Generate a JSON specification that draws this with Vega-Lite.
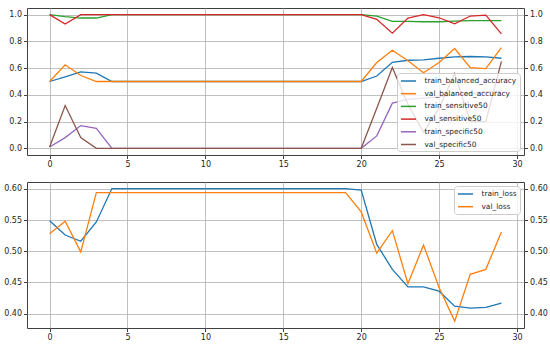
{
  "$schema": "https://vega.github.io/schema/vega-lite/v6.json",
  "padding": {"left": 3, "top": 7, "right": 0, "bottom": 0},
  "background": "white",
  "spacing": 12,
  "config": {
    "view": {"stroke": "#404040", "strokeWidth": 1},
    "axis": {"labelFont": "DejaVu Sans", "labelFontSize": 8, "labelColor": "#262626", "tickColor": "#404040", "tickSize": 3.5, "domain": false, "gridColor": "#b0b0b0", "gridWidth": 0.8, "labelPadding": 2},
    "legend": {"labelFont": "DejaVu Sans", "labelFontSize": 7.4, "labelColor": "#262626", "symbolType": "M-1.875,0H1.875", "symbolStrokeWidth": 1.5, "symbolSize": 64, "symbolOffset": 3.5, "labelOffset": 11, "fillColor": "rgba(255,255,255,0.8)", "strokeColor": "#cccccc", "cornerRadius": 3, "padding": 3, "rowPadding": 3.7, "offset": 4, "title": null}
  },
  "datasets": {
    "acc": [
      {"epoch": 0, "train_balanced_accuracy": 0.5, "val_balanced_accuracy": 0.5, "train_sensitive50": 1.0, "val_sensitive50": 1.0, "train_specific50": 0.01, "val_specific50": 0.01},
      {"epoch": 1, "train_balanced_accuracy": 0.535, "val_balanced_accuracy": 0.625, "train_sensitive50": 0.985, "val_sensitive50": 0.93, "train_specific50": 0.08, "val_specific50": 0.32},
      {"epoch": 2, "train_balanced_accuracy": 0.572, "val_balanced_accuracy": 0.545, "train_sensitive50": 0.975, "val_sensitive50": 1.0, "train_specific50": 0.17, "val_specific50": 0.08},
      {"epoch": 3, "train_balanced_accuracy": 0.562, "val_balanced_accuracy": 0.5, "train_sensitive50": 0.975, "val_sensitive50": 1.0, "train_specific50": 0.15, "val_specific50": 0.0},
      {"epoch": 4, "train_balanced_accuracy": 0.5, "val_balanced_accuracy": 0.5, "train_sensitive50": 1.0, "val_sensitive50": 1.0, "train_specific50": 0.0, "val_specific50": 0.0},
      {"epoch": 5, "train_balanced_accuracy": 0.5, "val_balanced_accuracy": 0.5, "train_sensitive50": 1.0, "val_sensitive50": 1.0, "train_specific50": 0.0, "val_specific50": 0.0},
      {"epoch": 6, "train_balanced_accuracy": 0.5, "val_balanced_accuracy": 0.5, "train_sensitive50": 1.0, "val_sensitive50": 1.0, "train_specific50": 0.0, "val_specific50": 0.0},
      {"epoch": 7, "train_balanced_accuracy": 0.5, "val_balanced_accuracy": 0.5, "train_sensitive50": 1.0, "val_sensitive50": 1.0, "train_specific50": 0.0, "val_specific50": 0.0},
      {"epoch": 8, "train_balanced_accuracy": 0.5, "val_balanced_accuracy": 0.5, "train_sensitive50": 1.0, "val_sensitive50": 1.0, "train_specific50": 0.0, "val_specific50": 0.0},
      {"epoch": 9, "train_balanced_accuracy": 0.5, "val_balanced_accuracy": 0.5, "train_sensitive50": 1.0, "val_sensitive50": 1.0, "train_specific50": 0.0, "val_specific50": 0.0},
      {"epoch": 10, "train_balanced_accuracy": 0.5, "val_balanced_accuracy": 0.5, "train_sensitive50": 1.0, "val_sensitive50": 1.0, "train_specific50": 0.0, "val_specific50": 0.0},
      {"epoch": 11, "train_balanced_accuracy": 0.5, "val_balanced_accuracy": 0.5, "train_sensitive50": 1.0, "val_sensitive50": 1.0, "train_specific50": 0.0, "val_specific50": 0.0},
      {"epoch": 12, "train_balanced_accuracy": 0.5, "val_balanced_accuracy": 0.5, "train_sensitive50": 1.0, "val_sensitive50": 1.0, "train_specific50": 0.0, "val_specific50": 0.0},
      {"epoch": 13, "train_balanced_accuracy": 0.5, "val_balanced_accuracy": 0.5, "train_sensitive50": 1.0, "val_sensitive50": 1.0, "train_specific50": 0.0, "val_specific50": 0.0},
      {"epoch": 14, "train_balanced_accuracy": 0.5, "val_balanced_accuracy": 0.5, "train_sensitive50": 1.0, "val_sensitive50": 1.0, "train_specific50": 0.0, "val_specific50": 0.0},
      {"epoch": 15, "train_balanced_accuracy": 0.5, "val_balanced_accuracy": 0.5, "train_sensitive50": 1.0, "val_sensitive50": 1.0, "train_specific50": 0.0, "val_specific50": 0.0},
      {"epoch": 16, "train_balanced_accuracy": 0.5, "val_balanced_accuracy": 0.5, "train_sensitive50": 1.0, "val_sensitive50": 1.0, "train_specific50": 0.0, "val_specific50": 0.0},
      {"epoch": 17, "train_balanced_accuracy": 0.5, "val_balanced_accuracy": 0.5, "train_sensitive50": 1.0, "val_sensitive50": 1.0, "train_specific50": 0.0, "val_specific50": 0.0},
      {"epoch": 18, "train_balanced_accuracy": 0.5, "val_balanced_accuracy": 0.5, "train_sensitive50": 1.0, "val_sensitive50": 1.0, "train_specific50": 0.0, "val_specific50": 0.0},
      {"epoch": 19, "train_balanced_accuracy": 0.5, "val_balanced_accuracy": 0.5, "train_sensitive50": 1.0, "val_sensitive50": 1.0, "train_specific50": 0.0, "val_specific50": 0.0},
      {"epoch": 20, "train_balanced_accuracy": 0.5, "val_balanced_accuracy": 0.5, "train_sensitive50": 1.0, "val_sensitive50": 1.0, "train_specific50": 0.0, "val_specific50": 0.0},
      {"epoch": 21, "train_balanced_accuracy": 0.541, "val_balanced_accuracy": 0.642, "train_sensitive50": 0.99, "val_sensitive50": 0.965, "train_specific50": 0.093, "val_specific50": 0.3},
      {"epoch": 22, "train_balanced_accuracy": 0.644, "val_balanced_accuracy": 0.734, "train_sensitive50": 0.95, "val_sensitive50": 0.862, "train_specific50": 0.338, "val_specific50": 0.605},
      {"epoch": 23, "train_balanced_accuracy": 0.659, "val_balanced_accuracy": 0.655, "train_sensitive50": 0.95, "val_sensitive50": 0.975, "train_specific50": 0.366, "val_specific50": 0.33},
      {"epoch": 24, "train_balanced_accuracy": 0.662, "val_balanced_accuracy": 0.566, "train_sensitive50": 0.947, "val_sensitive50": 1.0, "train_specific50": 0.375, "val_specific50": 0.12},
      {"epoch": 25, "train_balanced_accuracy": 0.674, "val_balanced_accuracy": 0.642, "train_sensitive50": 0.947, "val_sensitive50": 0.977, "train_specific50": 0.385, "val_specific50": 0.3},
      {"epoch": 26, "train_balanced_accuracy": 0.684, "val_balanced_accuracy": 0.747, "train_sensitive50": 0.952, "val_sensitive50": 0.932, "train_specific50": 0.4, "val_specific50": 0.56},
      {"epoch": 27, "train_balanced_accuracy": 0.687, "val_balanced_accuracy": 0.604, "train_sensitive50": 0.955, "val_sensitive50": 0.99, "train_specific50": 0.41, "val_specific50": 0.2},
      {"epoch": 28, "train_balanced_accuracy": 0.684, "val_balanced_accuracy": 0.596, "train_sensitive50": 0.955, "val_sensitive50": 0.997, "train_specific50": 0.42, "val_specific50": 0.2},
      {"epoch": 29, "train_balanced_accuracy": 0.674, "val_balanced_accuracy": 0.754, "train_sensitive50": 0.955, "val_sensitive50": 0.857, "train_specific50": 0.43, "val_specific50": 0.65}
    ],
    "loss": [
      {"epoch": 0, "train_loss": 0.549, "val_loss": 0.528},
      {"epoch": 1, "train_loss": 0.526, "val_loss": 0.548},
      {"epoch": 2, "train_loss": 0.516, "val_loss": 0.499},
      {"epoch": 3, "train_loss": 0.547, "val_loss": 0.594},
      {"epoch": 4, "train_loss": 0.6005, "val_loss": 0.594},
      {"epoch": 5, "train_loss": 0.6005, "val_loss": 0.594},
      {"epoch": 6, "train_loss": 0.6005, "val_loss": 0.594},
      {"epoch": 7, "train_loss": 0.6005, "val_loss": 0.594},
      {"epoch": 8, "train_loss": 0.6005, "val_loss": 0.594},
      {"epoch": 9, "train_loss": 0.6005, "val_loss": 0.594},
      {"epoch": 10, "train_loss": 0.6005, "val_loss": 0.594},
      {"epoch": 11, "train_loss": 0.6005, "val_loss": 0.594},
      {"epoch": 12, "train_loss": 0.6005, "val_loss": 0.594},
      {"epoch": 13, "train_loss": 0.6005, "val_loss": 0.594},
      {"epoch": 14, "train_loss": 0.6005, "val_loss": 0.594},
      {"epoch": 15, "train_loss": 0.6005, "val_loss": 0.594},
      {"epoch": 16, "train_loss": 0.6005, "val_loss": 0.594},
      {"epoch": 17, "train_loss": 0.6005, "val_loss": 0.594},
      {"epoch": 18, "train_loss": 0.6005, "val_loss": 0.594},
      {"epoch": 19, "train_loss": 0.6005, "val_loss": 0.594},
      {"epoch": 20, "train_loss": 0.598, "val_loss": 0.563},
      {"epoch": 21, "train_loss": 0.511, "val_loss": 0.497},
      {"epoch": 22, "train_loss": 0.471, "val_loss": 0.533},
      {"epoch": 23, "train_loss": 0.443, "val_loss": 0.448},
      {"epoch": 24, "train_loss": 0.443, "val_loss": 0.51},
      {"epoch": 25, "train_loss": 0.436, "val_loss": 0.442},
      {"epoch": 26, "train_loss": 0.412, "val_loss": 0.388},
      {"epoch": 27, "train_loss": 0.409, "val_loss": 0.463},
      {"epoch": 28, "train_loss": 0.41, "val_loss": 0.471},
      {"epoch": 29, "train_loss": 0.417, "val_loss": 0.531}
    ]
  },
  "resolve": {"scale": {"color": "independent"}},
  "vconcat": [
    {
      "width": 497,
      "height": 147,
      "data": {"name": "acc"},
      "transform": [{"fold": ["train_balanced_accuracy", "val_balanced_accuracy", "train_sensitive50", "val_sensitive50", "train_specific50", "val_specific50"], "as": ["metric", "value"]}],
      "layer": [
        {
          "mark": {"type": "line", "strokeWidth": 1.3},
          "encoding": {
            "x": {"field": "epoch", "type": "quantitative", "title": null, "scale": {"domain": [-1.45, 30.45], "nice": false, "zero": false}, "axis": {"values": [0, 5, 10, 15, 20, 25, 30], "grid": true}},
            "y": {"field": "value", "type": "quantitative", "title": null, "scale": {"domain": [-0.05, 1.05], "nice": false, "zero": false}, "axis": {"values": [0, 0.2, 0.4, 0.6, 0.8, 1.0], "format": ".1f", "grid": true}},
            "color": {"field": "metric", "type": "nominal", "sort": null, "scale": {"domain": ["train_balanced_accuracy", "val_balanced_accuracy", "train_sensitive50", "val_sensitive50", "train_specific50", "val_specific50"], "range": ["#1f77b4", "#ff7f0e", "#2ca02c", "#d62728", "#9467bd", "#8c564b"]}, "legend": {"orient": "bottom-right", "symbolOffset": 3.5, "labelOffset": 11}}
          }
        },
        {
          "mark": {"type": "line", "opacity": 0},
          "encoding": {
            "x": {"field": "epoch", "type": "quantitative"},
            "y": {"field": "value", "type": "quantitative", "title": null, "scale": {"domain": [-0.05, 1.05], "nice": false, "zero": false}, "axis": {"orient": "right", "values": [0, 0.2, 0.4, 0.6, 0.8, 1.0], "format": ".1f", "grid": false}},
            "detail": {"field": "metric"}
          }
        }
      ],
      "resolve": {"scale": {"y": "independent"}}
    },
    {
      "width": 497,
      "height": 146,
      "data": {"name": "loss"},
      "transform": [{"fold": ["train_loss", "val_loss"], "as": ["metric", "value"]}],
      "layer": [
        {
          "mark": {"type": "line", "strokeWidth": 1.3},
          "encoding": {
            "x": {"field": "epoch", "type": "quantitative", "title": null, "scale": {"domain": [-1.45, 30.45], "nice": false, "zero": false}, "axis": {"values": [0, 5, 10, 15, 20, 25, 30], "grid": true}},
            "y": {"field": "value", "type": "quantitative", "title": null, "scale": {"domain": [0.377, 0.611], "nice": false, "zero": false}, "axis": {"values": [0.4, 0.45, 0.5, 0.55, 0.6], "format": ".2f", "grid": true}},
            "color": {"field": "metric", "type": "nominal", "sort": null, "scale": {"domain": ["train_loss", "val_loss"], "range": ["#1f77b4", "#ff7f0e"]}, "legend": {"orient": "top-right", "symbolOffset": 3.5, "labelOffset": 11}}
          }
        },
        {
          "mark": {"type": "line", "opacity": 0},
          "encoding": {
            "x": {"field": "epoch", "type": "quantitative"},
            "y": {"field": "value", "type": "quantitative", "title": null, "scale": {"domain": [0.377, 0.611], "nice": false, "zero": false}, "axis": {"orient": "right", "values": [0.4, 0.45, 0.5, 0.55, 0.6], "format": ".2f", "grid": false}},
            "detail": {"field": "metric"}
          }
        }
      ],
      "resolve": {"scale": {"y": "independent"}}
    }
  ]
}
